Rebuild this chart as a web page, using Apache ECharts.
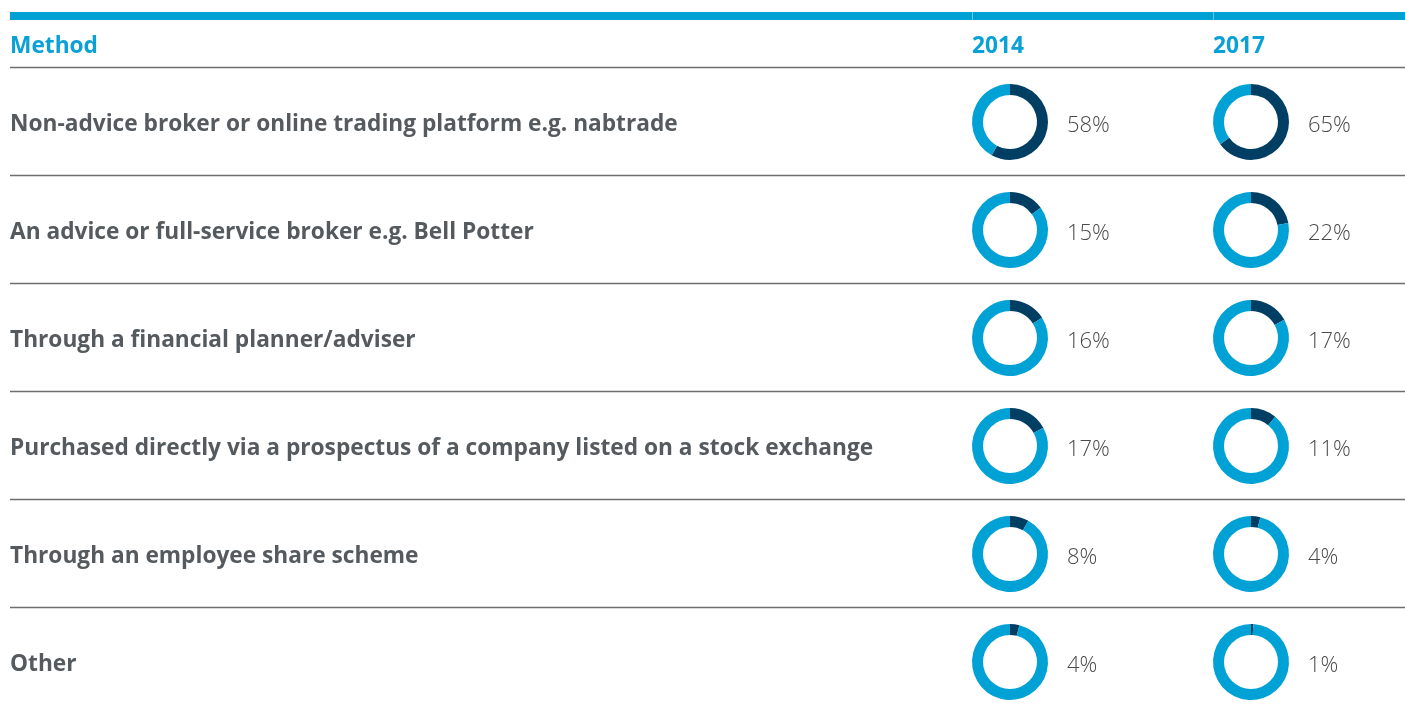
<!DOCTYPE html>
<html>
<head>
<meta charset="utf-8">
<script src="https://cdn.jsdelivr.net/npm/echarts@6/dist/echarts.min.js"></script>
<style>
  html, body { margin: 0; padding: 0; background: #fff; }
  #chart { width: 1405px; height: 709px; }
</style>
</head>
<body>
<div id="chart"></div>
<script>
// data
var methods = [
  "Non-advice broker or online trading platform e.g. nabtrade",
  "An advice or full-service broker e.g. Bell Potter",
  "Through a financial planner/adviser",
  "Purchased directly via a prospectus of a company listed on a stock exchange",
  "Through an employee share scheme",
  "Other"
];
var years = ["2014", "2017"];
var values2014 = [58, 15, 16, 17, 8, 4];
var values2017 = [65, 22, 17, 11, 4, 1];

var DARK = "#003e64";
var LIGHT = "#00a2d6";
var BLUE_TEXT = "#0aa1d6";
var GREY_TEXT = "#555a5f";

var chart = echarts.init(document.getElementById("chart"));

var rowTop = 67, rowH = 108;
var colX = [1010, 1251];
var cols = [values2014, values2017];

var series = [];
var graphic = [];

function txt(x, y, s, font, fill) {
  return {
    type: "text",
    style: { x: x, y: y, text: s, font: font, fill: fill, verticalAlign: "middle", textVerticalAlign: "middle" }
  };
}

// top blue band with small gaps at column starts
graphic.push({ type: "rect", shape: { x: 10, y: 12, width: 1395, height: 8 }, style: { fill: LIGHT } });
[972, 1213].forEach(function (x) {
  graphic.push({ type: "rect", shape: { x: x, y: 12, width: 1, height: 8 }, style: { fill: "#6cc6e6" } });
});

// headers
var HEAD_FONT = "bold 22.7px 'Open Sans'";
graphic.push(txt(10, 47, "Method", HEAD_FONT, BLUE_TEXT));
years.forEach(function (y, j) {
  graphic.push(txt(colX[j] - 38, 47, y, HEAD_FONT, BLUE_TEXT));
});

// separators
for (var k = 0; k <= methods.length; k++) {
  graphic.push({
    type: "line",
    shape: { x1: 10, y1: rowTop + rowH * k + 0.5, x2: 1405, y2: rowTop + rowH * k + 0.5 },
    style: { stroke: "#6e6e6e", lineWidth: 1.3 }
  });
}

methods.forEach(function (m, i) {
  var cy = rowTop + rowH * i + 55;
  graphic.push(txt(10, cy + 3, m, "bold 22.7px 'Open Sans'", GREY_TEXT));
  cols.forEach(function (vals, j) {
    var v = vals[i];
    series.push({
      type: "pie",
      center: [colX[j], cy],
      radius: [27, 38],
      startAngle: 90,
      clockwise: true,
      silent: true,
      label: { show: false },
      labelLine: { show: false },
      itemStyle: { borderWidth: 0 },
      data: [
        { value: v, itemStyle: { color: DARK } },
        { value: 100 - v, itemStyle: { color: LIGHT } }
      ]
    });
    graphic.push(txt(colX[j] + 57, cy + 4, v + "%", "300 22px 'Open Sans'", "#4a4a4a"));
  });
});

chart.setOption({
  animation: false,
  backgroundColor: "#fff",
  series: series,
  graphic: graphic
});
</script>
</body>
</html>
